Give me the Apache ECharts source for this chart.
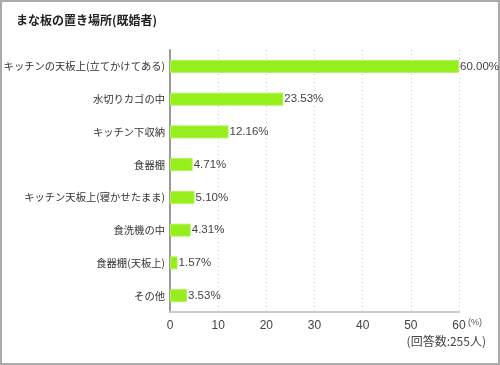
<!DOCTYPE html>
<html><head><meta charset="utf-8">
<script src="https://cdn.jsdelivr.net/npm/echarts@6/dist/echarts.min.js"></script>
<style>html,body{margin:0;padding:0;background:#fff}#c{width:500px;height:365px}</style>
</head><body><div id="c"></div>
<script>
const categories = ["キッチンの天板上(立てかけてある)","水切りカゴの中","キッチン下収納","食器棚","キッチン天板上(寝かせたまま)","食洗機の中","食器棚(天板上)","その他"];
const values = [60.00, 23.53, 12.16, 4.71, 5.10, 4.31, 1.57, 3.53];
const xTicks = [0, 10, 20, 30, 40, 50, 60];
const title = "まな板の置き場所(既婚者)";
const note = "(回答数:255人)";
const unit = "(%)";

const chart = echarts.init(document.getElementById('c'), null, {renderer:'canvas'});
const FONT = '"Noto Sans CJK JP", "Liberation Sans", sans-serif';
chart.setOption({
  animation:false,
  textStyle:{fontFamily:FONT},
  title:{text:title,left:11,top:9,textStyle:{fontSize:12,fontWeight:'bold',color:'#222',fontFamily:FONT}},
  grid:{left:170,right:41,top:50,bottom:53,containLabel:false,outerBoundsMode:'none'},
  xAxis:{type:'value',min:0,max:60,interval:10,
    axisLine:{show:true,lineStyle:{color:'#ccc',width:2}},
    axisTick:{show:false},
    axisLabel:{color:'#444',fontSize:12,margin:8,fontFamily:'"Liberation Sans", sans-serif',
      formatter:v=>xTicks.includes(v)?String(v):''},
    splitLine:{show:true,lineStyle:{color:'#ccc',type:[1,3],width:1}}
  },
  yAxis:{type:'category',inverse:true,data:categories,
    axisLine:{show:true,lineStyle:{color:'#999',width:2}},
    axisTick:{show:false},
    axisLabel:{color:'#333',fontSize:10.3,margin:5,fontFamily:FONT}
  },
  series:[{type:'bar',data:values,barWidth:13,
    itemStyle:{color:'#96ee1c',borderColor:'#b4f25a',borderWidth:1},
    label:{show:true,position:'right',distance:1,color:'#444',fontSize:11.5,
      fontFamily:'"Liberation Sans", sans-serif',
      formatter:p=>p.value.toFixed(2)+'%'}
  }],
  graphic:[
    {type:'rect',shape:{x:1,y:1,width:498,height:363},style:{fill:'none',stroke:'#aaa',lineWidth:2},silent:true,z:-1},
    {type:'text',left:468,top:318,style:{text:unit,fontSize:9,fill:'#555',fontFamily:'"Liberation Sans", sans-serif'}},
    {type:'text',right:14,top:335,style:{text:note,fontSize:12,fill:'#444',fontFamily:FONT}}
  ]
});
</script></body></html>
